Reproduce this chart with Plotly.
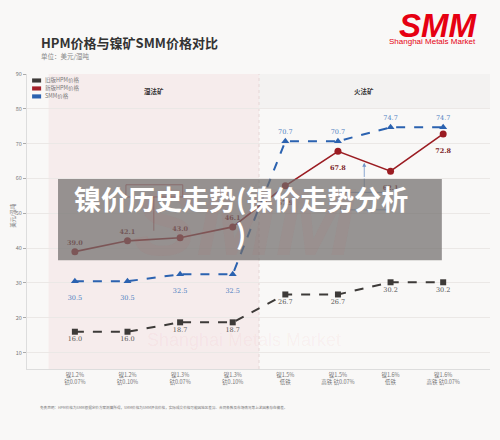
import plotly.graph_objects as go

# x categories (ore grades)
categories = [
    "镍1.2%<br>钴0.07%", "镍1.2%<br>钴0.10%", "镍1.3%<br>钴0.07%", "镍1.3%<br>钴0.10%",
    "镍1.5%<br>低铁", "镍1.5%<br>高铁 钴0.07%", "镍1.6%<br>低铁", "镍1.6%<br>高铁 钴0.07%",
]
old_hpm = [16.0, 16.0, 18.7, 18.7, 26.7, 26.7, 30.2, 30.2]
new_hpm = [39.0, 42.1, 43.0, 46.1, 57.9, 67.8, 62.1, 72.8]
smm = [30.5, 30.5, 32.5, 32.5, 70.7, 70.7, 74.7, 74.7]
series_names = ["旧版HPM价格", "新版HPM价格", "SMM价格"]
groups = ["湿法矿", "火法矿"]
y_ticks = [10, 20, 30, 40, 50, 60, 70, 80, 90]

x = list(range(len(categories)))

GRAY = "#3d3a38"
RED = "#9b1c22"
BLUE = "#2b62b0"
BG = "#f9f8f7"
NUM_FONT = "DejaVu Serif"
CJK = "Noto Sans CJK SC"

# label placement per series
old_pos = ["bottom center"] * 8
new_pos = ["top center"] * 4 + ["bottom center"] * 4
smm_pos = ["bottom center"] * 4 + ["top center"] * 4


def labels(vals, pos, bold=False, pad_below=False):
    out = []
    for v, p in zip(vals, pos):
        s = f"{v:.1f}"
        if bold:
            s = f"<b>{s}</b>"
        if pad_below and p.startswith("bottom"):
            s = "<span style='font-size:4px'> </span><br>" + s
        out.append(s)
    return out


fig = go.Figure()

fig.add_trace(go.Scatter(
    x=x, y=old_hpm, mode="lines+markers+text", name=series_names[0],
    line=dict(color=GRAY, width=2, dash="dash"),
    marker=dict(symbol="square", size=6, color=GRAY),
    text=labels(old_hpm, old_pos), textposition=old_pos,
    textfont=dict(size=6.5, color="#555", family=NUM_FONT),
))
fig.add_trace(go.Scatter(
    x=x, y=new_hpm, mode="lines+markers+text", name=series_names[1],
    line=dict(color=RED, width=1.6),
    marker=dict(symbol="circle", size=7, color=RED),
    text=labels(new_hpm, new_pos, bold=True, pad_below=True), textposition=new_pos,
    textfont=dict(size=6.5, color="#7a1a1e", family=NUM_FONT),
))
fig.add_trace(go.Scatter(
    x=x, y=smm, mode="lines+markers+text", name=series_names[2],
    line=dict(color=BLUE, width=2, dash="dash"),
    marker=dict(symbol="triangle-up", size=7, color=BLUE),
    text=labels(smm, smm_pos, pad_below=True), textposition=smm_pos,
    textfont=dict(size=6.5, color="#4a7cc0", family=NUM_FONT),
))

shapes = [
    # 湿法矿 region
    dict(type="rect", xref="x", yref="y", x0=-0.5, x1=3.5, y0=5.3, y1=90,
         fillcolor="rgba(240,215,215,0.35)", line_width=0, layer="below"),
    # 火法矿 header strip
    dict(type="rect", xref="x", yref="y", x0=3.5, x1=7.89, y0=80, y1=90,
         fillcolor="#f3f2f1", line_width=0, layer="below"),
    dict(type="line", xref="x", yref="y", x0=3.5, x1=3.5, y0=5.3, y1=90,
         line=dict(color="#e6d6d6", width=1, dash="dot"), layer="below"),
    # callout boxes and arrows (mostly hidden behind banner)
    dict(type="rect", xref="x", yref="y", x0=0.97, x1=2.05, y0=54.7, y1=58.2,
         line=dict(color="#c04a50", width=0.8), fillcolor="rgba(0,0,0,0)"),
    dict(type="line", xref="x", yref="y", x0=1.5, x1=1.5, y0=54.7, y1=45.0,
         line=dict(color="#c04a50", width=0.8)),
    dict(type="rect", xref="x", yref="y", x0=5.05, x1=5.95, y0=51.0, y1=56.0,
         line=dict(color="#6f93c8", width=0.8), fillcolor="rgba(0,0,0,0)"),
    dict(type="line", xref="x", yref="y", x0=5.5, x1=5.5, y0=56.0, y1=60.0,
         line=dict(color="#6f93c8", width=0.8)),
    # grey banner over the chart
    dict(type="rect", xref="paper", yref="paper", x0=0.067, x1=0.896, y0=0.369, y1=0.644,
         fillcolor="rgba(112,109,108,0.72)", line_width=0, layer="above"),
]

# hand-made legend with rectangle swatches
legend_cols = [GRAY, "#a3212a", BLUE]
legend_y = [0.978, 0.951, 0.924]
annotations = []
for name, col, ly in zip(series_names, legend_cols, legend_y):
    shapes.append(dict(type="rect", xref="paper", yref="paper", x0=0.011, x1=0.0305,
                       y0=ly - 0.007, y1=ly + 0.007, fillcolor=col, line_width=0))
    annotations.append(dict(text=name, xref="paper", yref="paper", x=0.0345, y=ly,
                            xanchor="left", yanchor="middle", showarrow=False,
                            font=dict(size=5.5, color="#777", family=CJK)))

annotations += [
    dict(text="<b>HPM价格与镍矿SMM价格对比</b>", xref="paper", yref="paper",
         x=0.026, y=1.108, xanchor="left", yanchor="middle", showarrow=False,
         font=dict(size=13, color="#333", family=CJK)),
    dict(text="单位：美元/湿吨", xref="paper", yref="paper",
         x=0.026, y=1.061, xanchor="left", yanchor="middle", showarrow=False,
         font=dict(size=6.5, color="#888", family=CJK)),
    dict(text="<b><i>SMM</i></b>", xref="paper", yref="paper",
         x=0.978, y=1.163, xanchor="right", yanchor="middle", showarrow=False,
         font=dict(size=33, color="#e60012", family="Liberation Sans")),
    dict(text="Shanghai Metals Market", xref="paper", yref="paper",
         x=0.975, y=1.110, xanchor="right", yanchor="middle", showarrow=False,
         font=dict(size=8, color="#e60012", family="Liberation Sans")),
    # faint watermark
    dict(text="<b><i>SMM</i></b>", xref="paper", yref="paper",
         x=0.47, y=0.50, xanchor="center", yanchor="middle", showarrow=False,
         font=dict(size=95, color="rgba(225,40,50,0.04)", family="Liberation Sans")),
    dict(text="Shanghai Metals Market", xref="paper", yref="paper",
         x=0.468, y=0.098, xanchor="center", yanchor="middle", showarrow=False,
         font=dict(size=18, color="rgba(225,40,50,0.05)", family="Liberation Sans")),
    dict(text="美元/湿吨", xref="paper", yref="paper", x=-0.032, y=0.52,
         textangle=-90, showarrow=False, xanchor="center", yanchor="middle",
         font=dict(size=5.5, color="#777", family=CJK)),
    dict(text="<b>" + groups[0] + "</b>", xref="x", yref="y", x=1.5, y=85, showarrow=False,
         font=dict(size=6.5, color="#333", family=CJK)),
    dict(text="<b>" + groups[1] + "</b>", xref="x", yref="y", x=5.5, y=85, showarrow=False,
         font=dict(size=6.5, color="#333", family=CJK)),
    dict(text="", xref="x", yref="y", x=5.5, y=64.5, axref="x", ayref="y", ax=5.5, ay=60.0,
         showarrow=True, arrowhead=2, arrowsize=1, arrowwidth=0.8, arrowcolor="#6f93c8"),
    dict(text="免责声明：HPM价格为SMM根据定价方案测算所得，SMM价格为SMM评估价格，实际成交价格可能因地区差异、合同条款及市场情况等上述因素存在偏差。",
         xref="paper", yref="paper", x=0.024, y=-0.132, xanchor="left", yanchor="middle",
         showarrow=False, font=dict(size=3.6, color="#777", family=CJK)),
    # banner text
    dict(text="<b>镍价历史走势(镍价走势分析<br>)</b>", xref="paper", yref="paper",
         x=0.462, y=0.52, xanchor="center", yanchor="middle", align="center",
         showarrow=False, font=dict(size=27, color="white", family=CJK)),
]

fig.update_layout(
    width=500, height=440,
    margin=dict(l=27, r=10, t=74, b=71),
    paper_bgcolor=BG, plot_bgcolor=BG,
    shapes=shapes, annotations=annotations,
    showlegend=False,
    font=dict(family=CJK),
)
fig.update_xaxes(
    range=[-0.91, 7.89], tickvals=x, ticktext=categories, showgrid=False,
    showline=True, linecolor="#dddddd", ticks="", zeroline=False,
    tickfont=dict(size=5.5, color="#777", family=CJK),
)
fig.update_yaxes(
    range=[5.3, 90], tickvals=y_ticks, showgrid=True, gridcolor="#ebe8e6", gridwidth=1,
    showline=True, linecolor="#dddddd", ticks="outside", ticklen=3, tickcolor="#aaa",
    zeroline=False, tickfont=dict(size=5.5, color="#777", family=CJK),
)

# drop the page's default body margin so the figure fills the window
fig.write_html(
    "out.html",
    config={"displayModeBar": False},
    post_script="document.body.style.margin='0';document.body.style.background='#f9f8f7';",
)
